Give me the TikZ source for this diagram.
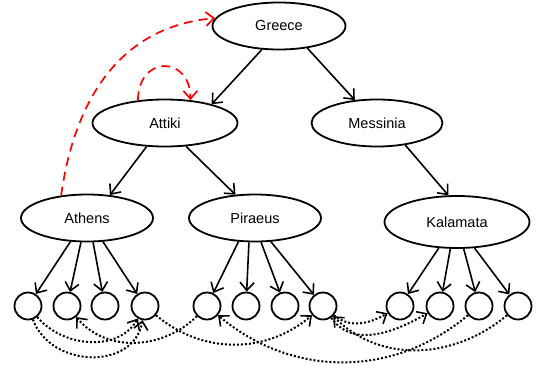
\documentclass[tikz,border=0pt]{standalone}
\usepackage{fontspec}
\setmainfont{Liberation Sans}
\usetikzlibrary{shapes.geometric,arrows.meta}

\tikzstyle{region} = [ellipse, draw, line width=1.8pt, minimum width=133pt, minimum height=47pt, inner sep=0pt, font=\fontsize{14.5}{17}\selectfont]
\tikzstyle{item} = [circle, draw, line width=1.8pt, minimum size=27pt, inner sep=0pt]
\tikzstyle{part} = [line width=1.6pt, -{Straight Barb[length=8pt,width=14pt]}]
\tikzstyle{link} = [line width=2pt, dash pattern=on 2pt off 2pt, -{Straight Barb[length=8pt,width=14pt,line width=1.6pt]}]
\tikzstyle{loc} = [red, line width=1.7pt, dash pattern=on 9pt off 6pt, -{Straight Barb[length=8pt,width=14pt]}]

\begin{document}
\begin{tikzpicture}[x=1pt, y=-1pt]
\useasboundingbox (0,0) rectangle (540,370);

\node[region] (Greece) at (279,26) {Greece};
\node[region, minimum width=145pt] (Attiki) at (165,123) {Attiki};
\node[region, minimum width=131pt] (Messinia) at (377,123) {Messinia};
\node[region, minimum width=132pt] (Athens) at (87,218) {Athens};
\node[region, minimum width=132pt] (Piraeus) at (255,218) {Piraeus};
\node[region, minimum width=145pt, minimum height=52pt] (Kalamata) at (457,222) {Kalamata};

% instances
\foreach \n/\x in {A1/28,A2/67,A3/105,A4/145,P1/207,P2/246,P3/285,P4/323,K1/400,K2/440,K3/479,K4/518}
    \node[item] (\n) at (\x,306) {};

% part-of
\draw[part] (Greece.234) -- (Attiki.22);
\draw[part] (Greece.322) -- (Messinia.134);
\draw[part] (Attiki.232) -- (Athens.45);
\draw[part] (Attiki.312) -- (Piraeus.130);
\draw[part] (Messinia.322) -- (Kalamata.108);
\foreach \c/\p in {Athens/A,Piraeus/P,Kalamata/K}
    \foreach \i/\a in {1/235,2/256,3/284,4/304}
        \draw[part] (\c.\a) -- (\p\i);

% located in
\draw[loc] (Athens.139) to[out=82, in=185, looseness=1.05] (Greece.173);
\draw[loc] (Attiki.140) to[out=90, in=90, looseness=2.2] (Attiki.42);

% links between instances
\draw[link] (A1) to[out=-50, in=-120] (A4);
\draw[link] (A1) to[out=-70, in=-100, looseness=1.2] (A4);
\draw[link] (P1) to[out=-135, in=-50] (A2);
\draw[link] (A4) to[out=-40, in=-140] (P4);
\draw[link] (K3) to[out=-140, in=-40] (P1);
\draw[link] (K4) to[out=-140, in=-45] (P4);
\draw[link] (P4) to[out=-40, in=-150] (K1);
\draw[link] (P4) to[out=-55, in=-150] (K2);
\end{tikzpicture}
\end{document}
